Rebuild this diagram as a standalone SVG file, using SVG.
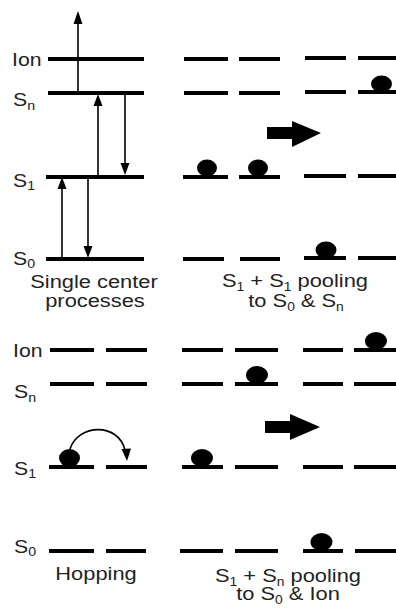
<svg xmlns="http://www.w3.org/2000/svg" width="396" height="610" viewBox="0 0 396 610">
<style>
.lvl{stroke:#000;stroke-width:4;fill:none}
.thin{stroke:#000;stroke-width:1.6;fill:none}
.ball{fill:#000}
.head{fill:#000}
text{font-family:"Liberation Sans",Arial,sans-serif;fill:#222}
.lab{font-size:18px}
.cap{font-size:19px}
.sub{font-size:12px}
</style>
<rect width="396" height="610" fill="#fff"/>

<!-- Top-left: single center processes -->
<g id="single-levels">
<line class="lvl" x1="48" y1="59" x2="144" y2="59"/>
<line class="lvl" x1="48" y1="93" x2="144" y2="93"/>
<line class="lvl" x1="46" y1="177" x2="144" y2="177"/>
<line class="lvl" x1="46" y1="259" x2="144" y2="259"/>
</g>
<g id="single-labels">
<text class="lab" transform="translate(12,66) scale(1.18,1)">Ion</text>
<text class="lab" transform="translate(13,106) scale(1.18,1)">S<tspan class="sub" dy="4">n</tspan></text>
<text class="lab" transform="translate(13,187) scale(1.18,1)">S<tspan class="sub" dy="3">1</tspan></text>
<text class="lab" transform="translate(13,265) scale(1.18,1)">S<tspan class="sub" dy="3">0</tspan></text>
<text class="cap" text-anchor="middle" transform="translate(94,288) scale(1.15,1)">Single center</text>
<text class="cap" text-anchor="middle" transform="translate(95,307) scale(1.15,1)">processes</text>
</g>
<g id="connectors">
<!-- Sn to top (ionization) -->
<line class="thin" x1="78" y1="93" x2="78" y2="22"/>
<polygon class="head" points="78,11 73.5,24 82.5,24"/>
<!-- S1 up to Sn -->
<line class="thin" x1="98" y1="177" x2="98" y2="104"/>
<polygon class="head" points="98,94 93.5,106 102.5,106"/>
<!-- Sn down to S1 -->
<line class="thin" x1="125" y1="93" x2="125" y2="165"/>
<polygon class="head" points="125,175 120.5,163 129.5,163"/>
<!-- S0 up to S1 -->
<line class="thin" x1="62" y1="259" x2="62" y2="187"/>
<polygon class="head" points="62,177 57.5,189 66.5,189"/>
<!-- S1 down to S0 -->
<line class="thin" x1="88" y1="177" x2="88" y2="248"/>
<polygon class="head" points="88,258 83.5,246 92.5,246"/>
<!-- hopping curve -->
<path class="thin" d="M70,449 C78,424 118,422 125,450"/>
<polygon class="head" points="127,461 121.5,449 131,448.5"/>
<!-- big arrows -->
<polygon class="head" points="267,127 292,127 292,121 321,133 292,147 292,139 267,139"/>
<polygon class="head" points="265,421 290,421 290,414 320,427 290,440 290,433 265,433"/>
</g>

<!-- Top-right: S1 + S1 pooling -->
<g id="pool1-levels">
<line class="lvl" x1="184" y1="59" x2="228" y2="59"/>
<line class="lvl" x1="239" y1="59" x2="280" y2="59"/>
<line class="lvl" x1="305" y1="58" x2="346" y2="58"/>
<line class="lvl" x1="358" y1="58" x2="396" y2="58"/>
<line class="lvl" x1="184" y1="93" x2="228" y2="93"/>
<line class="lvl" x1="239" y1="93" x2="280" y2="93"/>
<line class="lvl" x1="305" y1="92" x2="346" y2="92"/>
<line class="lvl" x1="358" y1="92" x2="396" y2="92"/>
<line class="lvl" x1="183" y1="177" x2="228" y2="177"/>
<line class="lvl" x1="239" y1="177" x2="280" y2="177"/>
<line class="lvl" x1="304" y1="176" x2="346" y2="176"/>
<line class="lvl" x1="358" y1="176" x2="396" y2="176"/>
<line class="lvl" x1="183" y1="259" x2="224" y2="259"/>
<line class="lvl" x1="240" y1="259" x2="280" y2="259"/>
<line class="lvl" x1="304" y1="258" x2="346" y2="258"/>
<line class="lvl" x1="358" y1="258" x2="396" y2="258"/>
</g>
<g id="pool1-balls">
<ellipse class="ball" cx="381.5" cy="84" rx="10.5" ry="8.5"/>
<ellipse class="ball" cx="207" cy="168" rx="10" ry="8.5"/>
<ellipse class="ball" cx="258" cy="168" rx="10" ry="8.5"/>
<ellipse class="ball" cx="326" cy="250" rx="10.5" ry="8.5"/>
</g>
<g id="pool1-labels">
<text class="cap" text-anchor="middle" transform="translate(295,287) scale(1.15,1)">S<tspan class="sub" dy="4">1</tspan><tspan dy="-4"> + S</tspan><tspan class="sub" dy="4">1</tspan><tspan dy="-4"> pooling</tspan></text>
<text class="cap" text-anchor="middle" transform="translate(296,307) scale(1.15,1)">to S<tspan class="sub" dy="4">0</tspan><tspan dy="-4"> &amp; S</tspan><tspan class="sub" dy="4">n</tspan></text>
</g>

<!-- Bottom-left: hopping -->
<g id="hop-levels">
<line class="lvl" x1="50" y1="350" x2="94" y2="350"/>
<line class="lvl" x1="106" y1="350" x2="147" y2="350"/>
<line class="lvl" x1="50" y1="384" x2="94" y2="384"/>
<line class="lvl" x1="106" y1="384" x2="147" y2="384"/>
<line class="lvl" x1="49" y1="467" x2="94" y2="467"/>
<line class="lvl" x1="106" y1="467" x2="147" y2="467"/>
<line class="lvl" x1="49" y1="551" x2="94" y2="551"/>
<line class="lvl" x1="106" y1="551" x2="146" y2="551"/>
</g>
<g id="hop-labels">
<text class="lab" transform="translate(13,357) scale(1.18,1)">Ion</text>
<text class="lab" transform="translate(14,398) scale(1.18,1)">S<tspan class="sub" dy="4">n</tspan></text>
<text class="lab" transform="translate(14,475) scale(1.18,1)">S<tspan class="sub" dy="3">1</tspan></text>
<text class="lab" transform="translate(14,553) scale(1.18,1)">S<tspan class="sub" dy="3">0</tspan></text>
<text class="cap" text-anchor="middle" transform="translate(96,580) scale(1.15,1)">Hopping</text>
</g>
<g id="hop-ball">
<ellipse class="ball" cx="69.5" cy="458" rx="10.5" ry="9"/>
</g>

<!-- Bottom-right: S1 + Sn pooling -->
<g id="pool2-levels">
<line class="lvl" x1="182" y1="350" x2="223" y2="350"/>
<line class="lvl" x1="235" y1="350" x2="278" y2="350"/>
<line class="lvl" x1="303" y1="350" x2="343" y2="350"/>
<line class="lvl" x1="354" y1="350" x2="396" y2="350"/>
<line class="lvl" x1="182" y1="384" x2="223" y2="384"/>
<line class="lvl" x1="235" y1="384" x2="278" y2="384"/>
<line class="lvl" x1="303" y1="384" x2="343" y2="384"/>
<line class="lvl" x1="354" y1="384" x2="396" y2="384"/>
<line class="lvl" x1="182" y1="467" x2="223" y2="467"/>
<line class="lvl" x1="235" y1="467" x2="278" y2="467"/>
<line class="lvl" x1="303" y1="467" x2="343" y2="467"/>
<line class="lvl" x1="354" y1="467" x2="396" y2="467"/>
<line class="lvl" x1="180" y1="551" x2="223" y2="551"/>
<line class="lvl" x1="235" y1="551" x2="278" y2="551"/>
<line class="lvl" x1="303" y1="551" x2="343" y2="551"/>
<line class="lvl" x1="355" y1="551" x2="396" y2="551"/>
</g>
<g id="pool2-balls">
<ellipse class="ball" cx="376" cy="341" rx="11" ry="9"/>
<ellipse class="ball" cx="257" cy="375" rx="11" ry="9"/>
<ellipse class="ball" cx="202" cy="458" rx="11" ry="9"/>
<ellipse class="ball" cx="321.5" cy="542" rx="11" ry="9"/>
</g>
<g id="pool2-labels">
<text class="cap" text-anchor="middle" transform="translate(288,582) scale(1.15,1)">S<tspan class="sub" dy="4">1</tspan><tspan dy="-4"> + S</tspan><tspan class="sub" dy="4">n</tspan><tspan dy="-4"> pooling</tspan></text>
<text class="cap" text-anchor="middle" transform="translate(288,600) scale(1.15,1)">to S<tspan class="sub" dy="4">0</tspan><tspan dy="-4"> &amp; Ion</tspan></text>
</g>
</svg>
